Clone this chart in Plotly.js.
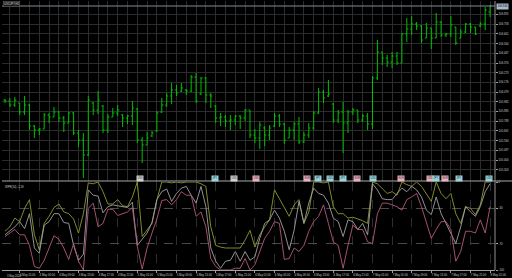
<!DOCTYPE html>
<html><head><meta charset="utf-8">
<script src="https://cdn.plot.ly/plotly-3.0.1.min.js"></script>
<style>html,body{margin:0;padding:0;background:#000;}#chart{width:512px;height:278px;}</style>
</head><body><div id="chart"></div>
<script>
const symbolLabel = "USDJPY,H1";
const indicatorLabel = "WPR(14) -1.18";
const firstDateLabel = "3 May 2020";

const barOpen = [106.00,105.99,105.95,105.97,105.88,105.95,105.74,105.70,105.71,105.85,
105.83,105.88,105.82,105.77,105.87,105.67,105.60,105.45,105.97,105.90,
105.94,105.70,105.83,105.87,105.85,105.82,105.84,105.91,105.60,105.55,
105.64,105.69,105.88,105.95,106.04,106.10,106.09,106.10,106.09,106.23,
106.06,106.22,106.05,105.94,105.82,105.83,105.79,105.80,105.84,105.82,
105.90,105.65,105.62,105.72,105.65,105.74,105.84,105.76,105.62,105.70,
105.76,105.58,105.65,105.72,105.87,106.08,106.04,105.96,105.80,105.88,
105.77,105.88,105.90,105.80,105.84,105.76,106.22,106.48,106.42,106.38,
106.44,106.37,106.66,106.71,106.76,106.74,106.62,106.72,106.62,106.78,
106.65,106.66,106.73,106.62,106.68,106.76,106.73,106.74,106.76,106.88];
const barHigh = [106.01,106.02,106.03,105.97,106.04,105.96,105.75,105.72,105.87,105.87,
105.93,105.89,105.84,105.88,105.88,105.70,105.67,106.04,105.98,106.09,
105.95,105.86,105.92,105.95,105.86,105.85,105.99,105.92,105.63,105.68,
105.69,105.89,106.02,106.07,106.17,106.15,106.17,106.11,106.25,106.27,
106.23,106.23,106.07,105.95,105.87,105.85,105.85,105.85,105.85,105.91,
105.90,105.71,105.78,105.74,105.75,105.87,105.86,105.77,105.73,105.78,
105.83,105.68,105.77,105.89,106.12,106.10,106.20,105.97,105.90,105.98,
105.90,105.92,105.90,105.86,105.87,106.24,106.60,106.48,106.45,106.48,
106.48,106.67,106.82,106.84,106.78,106.75,106.77,106.72,106.87,106.79,
106.67,106.84,106.73,106.71,106.77,106.77,106.73,106.78,106.93,106.95];
const barLow = [105.97,105.93,105.93,105.85,105.85,105.70,105.62,105.65,105.71,105.77,
105.83,105.78,105.68,105.77,105.65,105.53,105.22,105.44,105.85,105.86,
105.67,105.67,105.83,105.84,105.73,105.76,105.75,105.57,105.37,105.55,
105.63,105.68,105.87,105.93,105.96,106.04,106.08,106.05,106.08,105.97,
106.05,105.97,105.92,105.77,105.74,105.73,105.70,105.75,105.71,105.79,
105.62,105.57,105.51,105.54,105.60,105.73,105.73,105.56,105.62,105.60,
105.56,105.57,105.62,105.70,105.86,105.97,106.03,105.77,105.77,105.47,
105.67,105.85,105.77,105.78,105.70,105.71,106.20,106.35,106.33,106.32,
106.35,106.37,106.58,106.65,106.70,106.57,106.62,106.51,106.62,106.63,
106.63,106.63,106.55,106.62,106.67,106.67,106.65,106.73,106.70,106.83];
const barClose = [105.99,105.95,106.00,105.88,105.95,105.74,105.70,105.71,105.85,105.83,
105.88,105.82,105.77,105.87,105.67,105.60,105.45,106.00,105.90,106.00,
105.70,105.83,105.87,105.90,105.82,105.84,105.92,105.60,105.55,105.62,
105.67,105.87,105.95,106.04,106.10,106.07,106.12,106.09,106.23,105.99,
106.22,106.05,106.04,105.82,105.83,105.79,105.80,105.84,105.82,105.90,
105.65,105.62,105.75,105.65,105.72,105.84,105.76,105.60,105.70,105.76,
105.58,105.65,105.72,105.87,106.08,106.02,106.06,105.80,105.87,105.77,
105.88,105.90,105.80,105.84,105.76,106.22,106.48,106.42,106.38,106.44,
106.37,106.66,106.71,106.76,106.74,106.60,106.72,106.62,106.78,106.65,
106.66,106.75,106.57,106.68,106.76,106.73,106.66,106.76,106.90,106.94];

const wprFast = [-56,-51,-41,-45,-30,-20,-60,-77,-47,-39,
-29,-25,-34,-36,-42,-58,-36,-1,-2,0,
-11,-25,-25,-20,-27,-28,-17,0,-62,-55,
-47,-20,0,0,-1,0,-1,0,0,0,
-2,-5,-51,-72,-74,-75,-75,-75,-75,-66,
-55,-74,-60,-51,-43,-9,-19,-30,-39,-26,
-20,-47,-34,0,0,-1,0,-28,-36,-36,
-41,-40,-42,-44,-47,0,-2,-8,-13,-11,
-15,0,-3,-5,0,-5,-13,-22,0,-13,
-19,-13,-36,-47,-28,-30,-37,-26,0,0];
const wprMid = [-60,-56,-51,-45,-53,-36,-75,-81,-49,-45,
-36,-36,-46,-47,-72,-89,-82,-9,-15,-16,
-35,-28,-26,-27,-28,-29,-23,-72,-65,-58,
-46,-20,-11,-8,-22,-13,-7,-5,-15,-24,
-5,-28,-75,-90,-98,-90,-89,-79,-90,-79,
-89,-85,-64,-47,-43,-32,-41,-56,-77,-55,
-22,-47,-24,-7,-13,-15,-24,-41,-45,-62,
-43,-45,-54,-47,-60,-2,-9,-19,-20,-20,
-13,-7,-11,-5,-9,-17,-32,-37,-17,-36,
-47,-58,-70,-51,-28,-34,-39,-28,-11,-2];
const wprSlow = [-62,-58,-54,-60,-60,-72,-96,-98,-89,-75,
-61,-65,-75,-88,-70,-90,-100,-30,-24,-51,
-47,-31,-31,-38,-36,-34,-29,-73,-99,-75,
-58,-42,-21,-20,-26,-20,-11,-15,-15,-39,
-34,-51,-87,-96,-100,-100,-100,-98,-98,-87,
-100,-94,-79,-64,-56,-45,-47,-88,-87,-75,
-79,-72,-56,-45,-39,-26,-47,-68,-72,-98,
-72,-49,-54,-54,-68,-70,-36,-24,-24,-26,
-28,-32,-20,-17,-13,-28,-47,-64,-54,-45,
-45,-54,-90,-79,-56,-56,-58,-43,-58,-28];

const timeTickBars = [3,7,11,15,19,23,27,31,35,39,43,47,51,55,59,63,67,71,75,79,83,87,91,95,99];
const timeTickText = ["4 May 01:00","4 May 05:00","4 May 09:00","4 May 13:00","4 May 17:00","4 May 21:00",
"5 May 01:00","5 May 05:00","5 May 09:00","5 May 13:00","5 May 17:00","5 May 21:00",
"6 May 01:00","6 May 05:00","6 May 09:00","6 May 13:00","6 May 17:00","6 May 21:00",
"7 May 01:00","7 May 05:00","7 May 09:00","7 May 13:00","7 May 17:00","7 May 21:00","8 May 01:00"];
const priceTicks = [106.855,106.758,106.661,106.564,106.467,106.370,106.273,106.176,106.079,
105.982,105.885,105.788,105.691,105.594,105.497,105.400,105.303];
const wprTicks = [0,-30,-70,-100];
const wprTickText = ["0","-30","-70","-100"];

const eventBars = [27.5,42.9,46.8,51.3,61.7,63.8,66.3,69,71.8,75.2,80.8,86.7,88,89.7,92.7,98.7];
const eventCurrency = ["USD","JPY","USD","USD","EUR","JPY","USD","JPY","EUR","USD","EUR","USD","JPY","EUR","JPY","USD"];
const eventImpact = ["low","med","low","high","high","med","med","med","high","med","high","high","med","high","med","med"];

const barIdx = barOpen.map((_, i) => i);
const mainGridBars = barIdx.filter(i => i % 2 === 1);

const impactColor = {low: "#d0d0d0", med: "#98d3dc", high: "#eab0be"};
const FONT = "Liberation Sans, Arial, sans-serif";
const xr = [-0.61, 100];

const traces = [
  {type: "ohlc", x: barIdx, open: barOpen, high: barHigh, low: barLow, close: barClose,
   xaxis: "x", yaxis: "y", tickwidth: 0.32,
   increasing: {line: {color: "#00be00", width: 1}},
   decreasing: {line: {color: "#00be00", width: 1}}, hoverinfo: "skip"},
  {type: "scatter", mode: "lines", x: barIdx, y: wprFast, xaxis: "x2", yaxis: "y2",
   line: {color: "#8e9830", width: 0.9}, hoverinfo: "skip"},
  {type: "scatter", mode: "lines", x: barIdx, y: wprMid, xaxis: "x2", yaxis: "y2",
   line: {color: "#a2a2a2", width: 0.9}, hoverinfo: "skip"},
  {type: "scatter", mode: "lines", x: barIdx, y: wprSlow, xaxis: "x2", yaxis: "y2",
   line: {color: "#b45a7e", width: 0.9}, hoverinfo: "skip"}
];

const lastClose = barClose[barClose.length - 1];
const annotations = [
  {xref: "paper", yref: "paper", x: 0.002, y: 0.999, xanchor: "left", yanchor: "top",
   text: symbolLabel, showarrow: false, font: {family: FONT, size: 2.8, color: "#d0d0d0"},
   bgcolor: "#1a1a1a", bordercolor: "#6a6a6a", borderwidth: 0.5, borderpad: 0.5},
  {xref: "paper", yref: "paper", x: 0.002, y: 0.3235, xanchor: "left", yanchor: "top",
   text: indicatorLabel, showarrow: false, font: {family: FONT, size: 2.8, color: "#d0d0d0"}},
  {xref: "paper", yref: "y", x: 1.002, y: lastClose, xanchor: "left", yanchor: "middle",
   text: lastClose.toFixed(3), showarrow: false, font: {family: FONT, size: 2.8, color: "#101010"},
   bgcolor: "#a9b9c9", borderpad: 0.4},
  {xref: "paper", yref: "paper", x: 0.006, y: 0, xanchor: "left", yanchor: "top", yshift: -2,
   text: firstDateLabel, showarrow: false, font: {family: FONT, size: 2.7, color: "#c8c8c8"}}
];
eventBars.forEach((b, k) => {
  annotations.push({xref: "x", yref: "paper", x: b, y: 0.342, xanchor: "center", yanchor: "middle",
    text: eventCurrency[k], showarrow: false, font: {family: FONT, size: 2.6, color: "#303030"},
    bgcolor: impactColor[eventImpact[k]], borderpad: 0.4});
});

const shapes = [
  {type: "line", xref: "paper", yref: "y", x0: 0, x1: 1, y0: lastClose, y1: lastClose,
   line: {color: "#7f8c9c", width: 1}},
  {type: "line", xref: "paper", yref: "paper", x0: 0, x1: 1.04, y0: 0.3309, y1: 0.3309,
   line: {color: "#a8a8a8", width: 1}},
  {type: "line", xref: "paper", yref: "paper", x0: 1, x1: 1, y0: 0, y1: 1,
   line: {color: "#909090", width: 1}}
];

const axFont = {family: FONT, size: 2.8, color: "#c8c8c8"};
const layout = {
  width: 512, height: 278,
  margin: {l: 2, r: 17, t: 1, b: 8, pad: 0},
  paper_bgcolor: "#000", plot_bgcolor: "#000",
  showlegend: false,
  xaxis: {domain: [0, 1], anchor: "y", range: xr, rangeslider: {visible: false},
    tickmode: "array", tickvals: mainGridBars, showticklabels: false, ticks: "",
    showgrid: true, gridcolor: "#2c2c2c", gridwidth: 1, zeroline: false, showline: false},
  xaxis2: {domain: [0, 1], anchor: "y2", range: xr, rangeslider: {visible: false},
    tickmode: "array", tickvals: timeTickBars, ticktext: timeTickText,
    tickfont: axFont, ticks: "outside", ticklen: 2, tickcolor: "#a0a0a0",
    ticklabelshift: 8, ticklabelstandoff: 0,
    showgrid: true, gridcolor: "#2e2e2e", griddash: "dash", zeroline: false,
    showline: true, linecolor: "#a0a0a0", linewidth: 1},
  yaxis: {domain: [0.3327, 1], anchor: "x", side: "right", range: [105.195, 106.99],
    tickmode: "array", tickvals: priceTicks, ticktext: priceTicks.map(v => v.toFixed(3)),
    tickfont: axFont, ticks: "outside", ticklen: 2, tickcolor: "#a0a0a0",
    showgrid: true, gridcolor: "#2c2c2c", zeroline: false, showline: false},
  yaxis2: {domain: [0, 0.3271], anchor: "x2", side: "right", range: [-100, 0],
    tickmode: "array", tickvals: wprTicks, ticktext: wprTickText,
    tickfont: axFont, ticks: "outside", ticklen: 2, tickcolor: "#a0a0a0",
    showgrid: true, gridcolor: "#4a4a4a", griddash: "dash", zeroline: false, showline: false},
  annotations: annotations,
  shapes: shapes
};

Plotly.newPlot("chart", traces, layout, {staticPlot: true, displayModeBar: false});
</script>
</body></html>
